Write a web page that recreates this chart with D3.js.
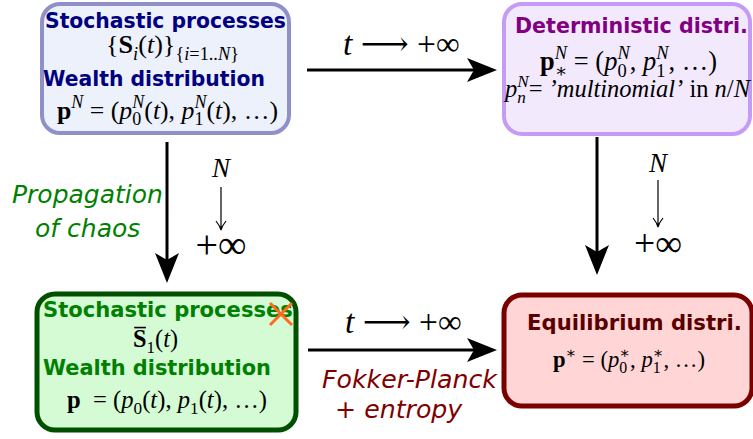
<!DOCTYPE html>
<html>
<head>
<meta charset="utf-8">
<script src="https://cdn.jsdelivr.net/npm/d3@7"></script>
<style>
  html, body { margin: 0; padding: 0; background: #fff; }
  svg { display: block; }
  text { white-space: pre; }
</style>
</head>
<body>
<svg width="753" height="439"></svg>
<script>
// ---------- content ----------
// formula segments: [text, style, position]
// style: r roman, i italic, b bold, bo bold with overbar
// position: base (omitted), sub, sup, ss (stacked "sub|sup")
const boxTitles = [
    ["Stochastic processes", "Wealth distribution"],
    ["Deterministic distri."],
    ["Stochastic processes", "Wealth distribution"],
    ["Equilibrium distri."],
];

const particleFormulas = [
    [["{", "r"], ["S", "b"], ["i", "i", "sub"], ["(", "r"], ["t", "i"], [")}", "r"],
     ["{", "r", "sub"], ["i", "i", "sub"], ["=1..", "r", "sub"], ["N", "i", "sub"], ["}", "r", "sub"]],
    [["p", "b"], ["N", "i", "sup"], [" = (", "r"], ["p", "i"], ["0|N", "r|i", "ss"], ["(", "r"], ["t", "i"],
     ["), ", "r"], ["p", "i"], ["1|N", "r|i", "ss"], ["(", "r"], ["t", "i"], ["), …)", "r"]],
];
const deterministicFormulas = [
    [["p", "b"], ["∗|N", "r|i", "ss"], [" = (", "r"], ["p", "i"], ["0|N", "r|i", "ss"], [", ", "r"],
     ["p", "i"], ["1|N", "r|i", "ss"], [", …)", "r"]],
    [["p", "i"], ["n|N", "i|i", "ss"], ["= ", "r"], ["’multinomial’", "i"], [" in ", "r"],
     ["n", "i"], ["/", "r"], ["N", "i"]],
];
const meanFieldFormulas = [
    [["S", "bo"], ["1", "r", "sub"], ["(", "r"], ["t", "i"], [")", "r"]],
    [["p", "b"], ["  = (", "r"], ["p", "i"], ["0", "r", "sub"], ["(", "r"], ["t", "i"], ["), ", "r"],
     ["p", "i"], ["1", "r", "sub"], ["(", "r"], ["t", "i"], ["), …)", "r"]],
];
const equilibriumFormulas = [
    [["p", "b"], ["∗", "r", "sup"], [" = (", "r"], ["p", "i"], ["0|∗", "r|r", "ss"], [", ", "r"],
     ["p", "i"], ["1|∗", "r|r", "ss"], [", …)", "r"]],
];
const boxFormulas = [particleFormulas, deterministicFormulas, meanFieldFormulas, equilibriumFormulas];

const timeLimit = [["t", "i"], [" ⟶ +∞", "r"]];
const sizeLimit = ["N", "+∞"];
const chaosLabel = ["Propagation", "of chaos"];
const fokkerLabel = ["Fokker-Planck", "+ entropy"];

// ---------- layout ----------
const mathFont = "'Liberation Serif', 'DejaVu Serif', serif";
const sansFont = "'DejaVu Sans', sans-serif";

const boxes = [
    { x: 42, y: 4, w: 247, h: 129, sw: 4, fill: "#edf1fc", stroke: "#9090c8", color: "#000080",
      titles: [[45, 28, 241], [43, 86, 222]], formulas: [[106, 53, 133], [57, 119, 221]] },
    { x: 504, y: 4, w: 246, h: 130, sw: 4, fill: "#f3e9fd", stroke: "#c49cf5", color: "#800080",
      titles: [[515, 33, 233]], formulas: [[540, 70, 177], [505, 97, 245]] },
    { x: 37, y: 294, w: 259, h: 136, sw: 5, fill: "#d5fbd5", stroke: "#005000", color: "#008000",
      titles: [[43, 317, 250], [43, 375, 228]], formulas: [[133, 347, 45], [67, 408, 200]] },
    { x: 504, y: 295, w: 248, h: 111, sw: 5, fill: "#ffd5d5", stroke: "#7a0000", color: "#5a0000",
      titles: [[527, 330, 215]], formulas: [[553, 367, 152]] },
];

const arrows = [
    { x1: 307, y1: 70, x2: 497, y2: 70 },
    { x1: 308, y1: 350, x2: 497, y2: 350 },
    { x1: 167, y1: 142, x2: 167, y2: 283 },
    { x1: 597, y1: 137, x2: 597, y2: 275 },
];
const timeLabelPos = [[343, 55, 117], [345, 333, 117]];
const sizeLabelPos = [
    { cx: 221, nY: 177, a1: 187, a2: 230, infY: 258, infW: 51 },
    { cx: 658, nY: 172, a1: 180, a2: 227, infY: 256, infW: 48 },
];

const svg = d3.select("svg");

// ---------- helpers ----------
function fitText(sel, target) {
    const size = parseFloat(sel.attr("font-size"));
    const w = sel.node().getComputedTextLength();
    sel.attr("font-size", size * target / w);
    return size * target / w;
}

function styleText(t, style, size) {
    t.attr("font-family", mathFont)
        .attr("font-size", size)
        .attr("font-style", style === "i" ? "italic" : "normal")
        .attr("font-weight", style === "b" || style === "bo" ? "bold" : "normal")
        .attr("fill", "#000");
    return t;
}

// lays out a formula at baseline, scaled so it spans `width` pixels
function drawMath(parent, parts, x, y, width) {
    const base = 20;
    const small = base * 0.7;
    const g = parent.append("g");
    let cx = 0;
    parts.forEach(([txt, style, pos]) => {
        if (pos === "ss") {
            const [subT, supT] = txt.split("|");
            const [subS, supS] = style.split("|");
            const a = styleText(g.append("text"), subS, small).attr("x", cx).attr("y", base * 0.25).text(subT);
            const b = styleText(g.append("text"), supS, small).attr("x", cx).attr("y", -base * 0.42).text(supT);
            cx += Math.max(a.node().getComputedTextLength(), b.node().getComputedTextLength());
            return;
        }
        const size = pos ? small : base;
        const dy = pos === "sub" ? base * 0.25 : pos === "sup" ? -base * 0.42 : 0;
        const t = styleText(g.append("text"), style, size).attr("x", cx).attr("y", dy).text(txt);
        const w = t.node().getComputedTextLength();
        if (style === "bo") {
            g.append("line")
                .attr("x1", cx + 1).attr("x2", cx + w - 0.5)
                .attr("y1", -base * 0.8).attr("y2", -base * 0.8)
                .attr("stroke", "#000").attr("stroke-width", 1.3);
        }
        cx += w;
    });
    const s = width / cx;
    g.attr("transform", `translate(${x},${y}) scale(${s})`);
    return g;
}

function arrowHead(path, x, y, dx, dy) {
    // concave filled arrowhead pointing along (dx, dy)
    const L = 30, W = 12, notch = 7;
    const px = -dy, py = dx;
    path.moveTo(x, y);
    path.lineTo(x - dx * L + px * W, y - dy * L + py * W);
    path.lineTo(x - dx * (L - notch), y - dy * (L - notch));
    path.lineTo(x - dx * L - px * W, y - dy * L - py * W);
    path.closePath();
    return path;
}

// ---------- boxes ----------
const boxG = svg.selectAll(".box")
    .data(boxes)
    .join("g")
    .attr("class", "box");

boxG.append("rect")
    .attr("x", (d) => d.x)
    .attr("y", (d) => d.y)
    .attr("width", (d) => d.w)
    .attr("height", (d) => d.h)
    .attr("rx", 18)
    .attr("fill", (d) => d.fill)
    .attr("stroke", (d) => d.stroke)
    .attr("stroke-width", (d) => d.sw);

boxG.each(function (d, i) {
    const g = d3.select(this);
    boxTitles[i].forEach((title, j) => {
        const [x, y, w] = d.titles[j];
        const t = g.append("text")
            .attr("x", x)
            .attr("y", y)
            .attr("font-family", sansFont)
            .attr("font-weight", "bold")
            .attr("font-size", 20)
            .attr("fill", d.color)
            .text(title);
        fitText(t, w);
    });
    boxFormulas[i].forEach((parts, j) => {
        const [x, y, w] = d.formulas[j];
        drawMath(g, parts, x, y, w);
    });
});

// crossed-out final letter
svg.append("path")
    .attr("d", "M270,303L292,325M292,303L270,325")
    .attr("stroke", "#ff6a1c")
    .attr("stroke-width", 3)
    .attr("fill", "none");

// ---------- arrows ----------
svg.selectAll(".arrow-line")
    .data(arrows)
    .join("line")
    .attr("class", "arrow-line")
    .attr("x1", (d) => d.x1)
    .attr("y1", (d) => d.y1)
    .attr("x2", (d) => (d.y1 === d.y2 ? d.x2 - 20 : d.x2))
    .attr("y2", (d) => (d.y1 === d.y2 ? d.y2 : d.y2 - 20))
    .attr("stroke", "#000")
    .attr("stroke-width", 3);

svg.selectAll(".arrow-head")
    .data(arrows)
    .join("path")
    .attr("class", "arrow-head")
    .attr("d", (d) => {
        const len = Math.hypot(d.x2 - d.x1, d.y2 - d.y1);
        return arrowHead(d3.path(), d.x2, d.y2, (d.x2 - d.x1) / len, (d.y2 - d.y1) / len).toString();
    })
    .attr("fill", "#000");

// t -> +inf labels
timeLabelPos.forEach(([x, y, w]) => drawMath(svg, timeLimit, x, y, w));

// N -> +inf labels
sizeLabelPos.forEach((p) => {
    svg.append("text")
        .attr("x", p.cx)
        .attr("y", p.nY)
        .attr("text-anchor", "middle")
        .attr("font-family", mathFont)
        .attr("font-style", "italic")
        .attr("font-size", 27)
        .text(sizeLimit[0]);
    svg.append("path")
        .attr("d", `M${p.cx},${p.a1}V${p.a2}M${p.cx - 5},${p.a2 - 9}Q${p.cx - 1},${p.a2 - 4} ${p.cx},${p.a2}Q${p.cx + 1},${p.a2 - 4} ${p.cx + 5},${p.a2 - 9}`)
        .attr("stroke", "#000")
        .attr("stroke-width", 1.2)
        .attr("fill", "none");
    const t = svg.append("text")
        .attr("x", p.cx)
        .attr("y", p.infY)
        .attr("text-anchor", "middle")
        .attr("font-family", mathFont)
        .attr("font-size", 27)
        .text(sizeLimit[1]);
    fitText(t, p.infW);
});

// side captions
function caption(lines, pos, color, w) {
    const first = svg.append("text")
        .attr("x", pos[0][0]).attr("y", pos[0][1])
        .attr("font-family", sansFont)
        .attr("font-style", "italic")
        .attr("font-size", 22)
        .attr("fill", color)
        .text(lines[0]);
    const size = fitText(first, w);
    svg.append("text")
        .attr("x", pos[1][0]).attr("y", pos[1][1])
        .attr("font-family", sansFont)
        .attr("font-style", "italic")
        .attr("font-size", size)
        .attr("fill", color)
        .text(lines[1]);
}
caption(chaosLabel, [[12, 203], [35, 237]], "#008000", 151);
caption(fokkerLabel, [[322, 388], [335, 418]], "#800000", 175);
</script>
</body>
</html>
